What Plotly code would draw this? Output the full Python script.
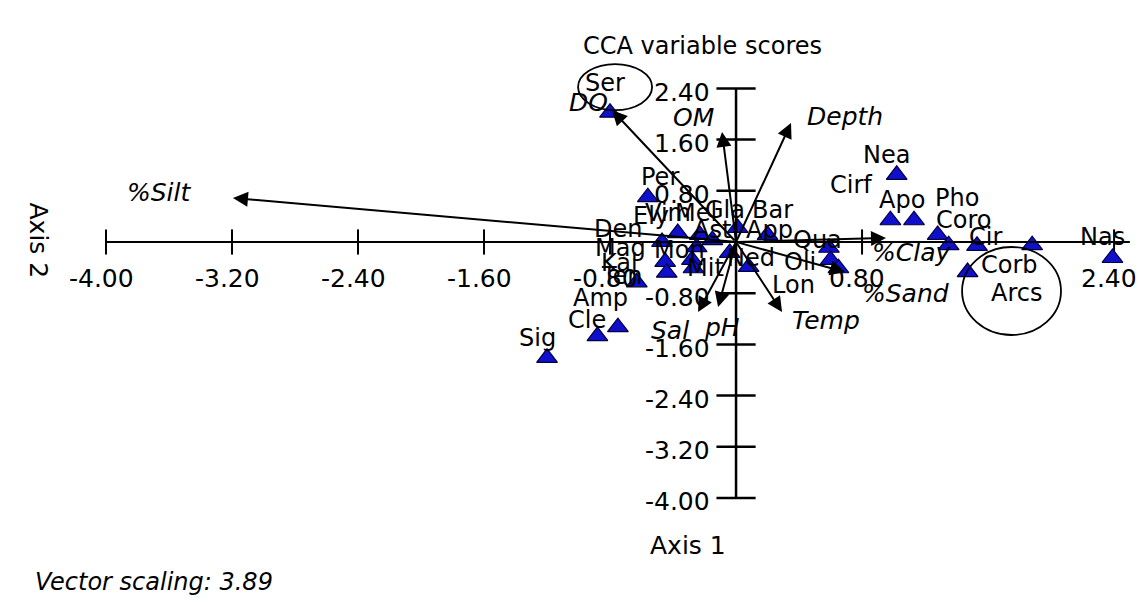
import plotly.graph_objects as go

# ---------------- data ----------------
x_ticks = [-4.00, -3.20, -2.40, -1.60, -0.80, 0.80, 2.40]
y_ticks = [2.40, 1.60, 0.80, -0.80, -1.60, -2.40, -3.20, -4.00]

species = ["Ser", "Per", "Nea", "Cirf", "Apo", "Pho", "Coro", "Cir", "Corb", "Arcs", "Nas",
           "Sig", "Cle", "Amp", "Den", "Ely", "Vim", "Mel", "Gla", "Bar", "App", "Ast",
           "Mag", "Kal", "Mon", "Mit", "Ned", "Ten", "Qua", "Oli", "Lon"]
sp_x = [-0.80, -0.56, 1.02, 0.98, 1.13, 1.28, 1.35, 1.53, 1.88, 1.47, 2.39,
        -1.20, -0.88, -0.75, -0.47, -0.37, -0.23, -0.15, 0.01, 0.20, -0.04, -0.25,
        -0.45, -0.44, -0.28, -0.27, 0.08, -0.63, 0.59, 0.60, 0.65]
sp_y = [2.02, 0.70, 1.05, 0.34, 0.34, 0.11, -0.05, -0.06, -0.05, -0.47, -0.25,
        -1.81, -1.47, -1.33, 0.00, 0.14, 0.11, 0.03, 0.22, 0.11, -0.17, -0.08,
        -0.31, -0.48, -0.28, -0.41, -0.39, -0.63, -0.09, -0.28, -0.41]

env = ["%Silt", "DO", "OM", "Depth", "Sal", "pH", "Temp", "%Clay", "%Sand"]
env_x = [-3.194, -0.787, -0.089, 0.349, -0.241, -0.114, 0.292, 0.952, 0.692]
env_y = [0.688, 2.060, 1.720, 1.860, -1.094, -1.016, -1.094, 0.0625, -0.469]

# ---------------- styling (pixel offsets of labels) ----------------
sp_lab_dx = [-5, 12, -10, -39, -12, 19, 15, 8, -23, 49, -10,
             -10, -10, -17, -44, -27, -32, -16, -13, 5, 40, 15,
             -45, -47, -12, 12, 2, -15, -11, -31, -45]
sp_lab_dy = [-30, -20, -20, -35, -20, -37, -25, -9, 20, 21, -21,
             -20, -16, -29, -13, -17, -22, -27, -18, -25, -23, -17,
             -14, -10, -10, 0, -9, -6, -8, 2, 17]
env_lab_dx = [-73, -24, -29, 54, -28, 4, 44, 26, 60]
env_lab_dy = [-5, -8, -14, -6, 18, 20, 8, 15, 21]

FONT = "DejaVu Sans"
FS = 25
W, H = 1141, 613
X_RANGE = [-4.673, 2.571]
Y_RANGE = [-5.797, 3.781]
X_AXIS_END = 2.50

fig = go.Figure()

# axis lines
fig.add_shape(type="line", x0=min(x_ticks), x1=X_AXIS_END, y0=0, y1=0,
              line=dict(color="black", width=2))
fig.add_shape(type="line", x0=0, x1=0, y0=min(y_ticks), y1=max(y_ticks),
              line=dict(color="black", width=2.5))

# ellipses around groups
fig.add_shape(type="circle", x0=-1.003, x1=-0.533, y0=2.06, y1=2.78,
              line=dict(color="black", width=1.8))
fig.add_shape(type="circle", x0=1.435, x1=2.063, y0=-1.453, y1=-0.078,
              line=dict(color="black", width=1.8))

# tick marks
fig.add_trace(go.Scatter(x=x_ticks, y=[0] * len(x_ticks), mode="markers",
                         marker=dict(symbol="line-ns", size=18,
                                     line=dict(color="black", width=2)),
                         hoverinfo="skip"))
fig.add_trace(go.Scatter(x=[0] * len(y_ticks), y=y_ticks, mode="markers",
                         marker=dict(symbol="line-ew", size=28,
                                     line=dict(color="black", width=2.5)),
                         hoverinfo="skip"))

annotations = []
for v in x_ticks:
    annotations.append(dict(x=v, y=0, xref="x", yref="y", text=f"{v:.2f}",
                            showarrow=False, xshift=-5, yshift=-37,
                            font=dict(family=FONT, size=FS, color="black")))
for v in y_ticks:
    annotations.append(dict(x=0, y=v, xref="x", yref="y", text=f"{v:.2f}",
                            showarrow=False, xanchor="right", xshift=-24, yshift=-4,
                            font=dict(family=FONT, size=FS, color="black")))

# environmental vectors
for name, hx, hy, dx, dy in zip(env, env_x, env_y, env_lab_dx, env_lab_dy):
    annotations.append(dict(x=hx, y=hy, ax=0, ay=0, xref="x", yref="y",
                            axref="x", ayref="y", text="", showarrow=True,
                            arrowhead=2, arrowsize=1.5, arrowwidth=2,
                            arrowcolor="black", standoff=0, startstandoff=0))
    annotations.append(dict(x=hx, y=hy, xref="x", yref="y", text=f"<i>{name}</i>",
                            showarrow=False, xshift=dx, yshift=-dy,
                            font=dict(family=FONT, size=FS, color="black")))

# species points
fig.add_trace(go.Scatter(x=sp_x, y=sp_y, mode="markers", text=species,
                         marker=dict(symbol="triangle-up", size=18, color="#1010cc",
                                     line=dict(color="#000040", width=1.2)),
                         hoverinfo="text"))
for name, x, y, dx, dy in zip(species, sp_x, sp_y, sp_lab_dx, sp_lab_dy):
    annotations.append(dict(x=x, y=y, xref="x", yref="y", text=name,
                            showarrow=False, xshift=dx, yshift=-dy,
                            font=dict(family=FONT, size=FS - 1, color="black")))

# titles
annotations.append(dict(x=702 / W, y=1 - 30 / H, xref="paper", yref="paper",
                        text="CCA variable scores", showarrow=False,
                        font=dict(family=FONT, size=FS - 1, color="black")))
annotations.append(dict(x=688 / W, y=1 - 562 / H, xref="paper", yref="paper",
                        text="Axis 1", showarrow=False,
                        font=dict(family=FONT, size=FS, color="black")))
annotations.append(dict(x=22 / W, y=1 - 240 / H, xref="paper", yref="paper",
                        text="Axis 2", showarrow=False, textangle=90,
                        font=dict(family=FONT, size=FS, color="black")))
annotations.append(dict(x=33 / W, y=1 - 598 / H, xref="paper", yref="paper",
                        text="<i>Vector scaling: 3.89</i>", showarrow=False,
                        xanchor="left",
                        font=dict(family=FONT, size=FS - 1, color="black")))

fig.update_layout(
    width=W, height=H,
    margin=dict(l=0, r=0, t=0, b=0),
    paper_bgcolor="white", plot_bgcolor="white",
    showlegend=False,
    xaxis=dict(range=X_RANGE, visible=False, fixedrange=True),
    yaxis=dict(range=Y_RANGE, visible=False, fixedrange=True),
    annotations=annotations,
)

fig.write_html("out.html")
